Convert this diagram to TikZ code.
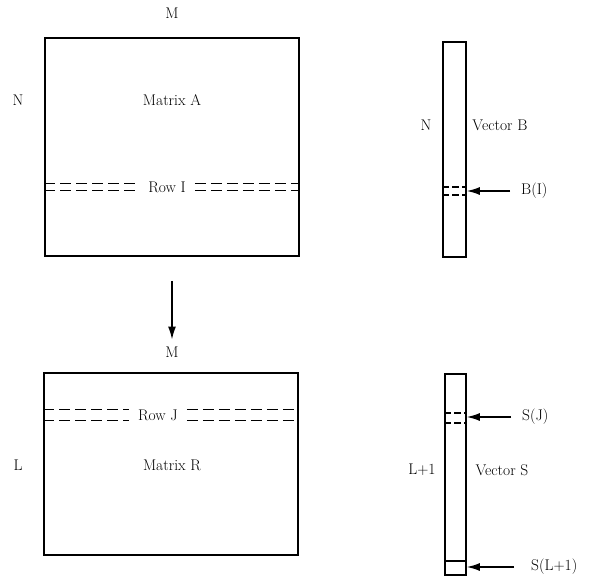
\documentclass[tikz,border=0pt]{standalone}
\usetikzlibrary{arrows.meta,calc}

\begin{document}
\begin{tikzpicture}[
    x=1pt, y=-1pt,
    font=\fontsize{15.5}{18}\selectfont,
    box/.style={draw=black, line width=1.6pt, inner sep=0pt},
    lbl/.style={inner sep=1pt},
    rowline/.style={line width=1.4pt, dash pattern=on 11pt off 5pt},
    arrow/.style={-{Latex[length=13pt, width=8pt]}, line width=1.5pt}
]
\useasboundingbox (0,0) rectangle (599,579);

% matrices and vectors
\node[box, minimum width=254pt, minimum height=218pt] (matA) at (172,147) {};
\node[box, minimum width=23pt, minimum height=215pt] (vecB) at (454.5,149.5) {};
\node[box, minimum width=254pt, minimum height=182pt] (matR) at (171,464) {};
\node[box, minimum width=21pt, minimum height=201pt] (vecS) at (455.5,474.5) {};

% labels
\node[lbl] (mA) at (172,13) {M};
\node[lbl] (nA) at (18,100) {N};
\node[lbl] (nameA) at (172,100) {Matrix A};
\node[lbl] (nB) at (426,125) {N};
\node[lbl] (nameB) at (500,125) {Vector B};
\node[lbl] (mR) at (172,352) {M};
\node[lbl] (lR) at (18,465) {L};
\node[lbl] (nameR) at (172,465) {Matrix R};
\node[lbl] (lS) at (422,470) {L+1};
\node[lbl] (nameS) at (502,470) {Vector S};

% row I of matrix A
\node[lbl, inner sep=9pt] (rowI) at (167,187) {Row I};
\foreach \dy in {-3.5,3.5} {
  \draw[rowline] ($(matA.west |- rowI)+(0,\dy)$) -- ($(rowI.west)+(0,\dy)$);
  \draw[rowline] ($(rowI.east)+(0,\dy)$) -- ($(matA.east |- rowI)+(0,\dy)$);
}

% row J of matrix R
\node[lbl, inner sep=9pt] (rowJ) at (158,415) {Row J};
\foreach \dy in {-5.5,5.5} {
  \draw[rowline] ($(matR.west |- rowJ)+(0,\dy)$) -- ($(rowJ.west)+(0,\dy)$);
  \draw[rowline] ($(rowJ.east)+(0,\dy)$) -- ($(matR.east |- rowJ)+(0,\dy)$);
}

% element pointers
\node[lbl, anchor=west] (bI) at (520,191) {B(I)};
\foreach \yy in {187,195}
  \draw[line width=1.3pt, dash pattern=on 7pt off 3pt] (vecB.west |- 0,\yy) -- (vecB.east |- 0,\yy);
\draw[arrow] ($(bI.west)+(-10,0)$) -- (bI.west -| vecB.east);

\node[lbl, anchor=west] (sJ) at (521,417) {S(J)};
\foreach \yy in {413,423}
  \draw[line width=1.3pt, dash pattern=on 7pt off 3pt] (vecS.west |- 0,\yy) -- (vecS.east |- 0,\yy);
\draw[arrow] ($(sJ.west)+(-10,0)$) -- (sJ.west -| vecS.east);

\node[lbl, anchor=west] (sL) at (530,567) {S(L+1)};
\draw[line width=1.5pt] (vecS.west |- 0,561) -- (vecS.east |- 0,561);
\draw[arrow] ($(sL.west)+(-16,0)$) -- (sL.west -| vecS.east);

% step from A to R
\draw[arrow] ([yshift=-24pt]matA.south) -- ([yshift=6pt]mR.north);

\end{tikzpicture}
\end{document}
